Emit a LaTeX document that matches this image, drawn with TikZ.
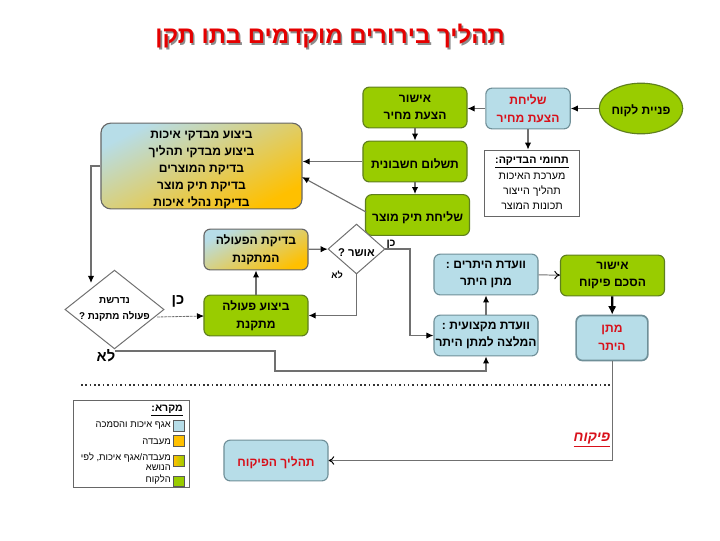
\documentclass[tikz,border=0pt]{standalone}
\usepackage{fontspec}
\setmainfont{Liberation Sans}[Script=Hebrew]
\TeXXeTstate=1
\usetikzlibrary{arrows.meta}
\usetikzlibrary{shapes.geometric}
\newcommand{\heb}[1]{\beginR #1\endR}
\newcommand{\shadowed}[1]{\leavevmode\rlap{\hbox to 0pt{\kern1.2pt\raisebox{-1.2pt}{\color{black!45}\heb{#1}}\hss}}\heb{#1}}
\definecolor{leaf}{HTML}{99CC00}
\definecolor{leafedge}{HTML}{5F7F1E}
\definecolor{sky}{HTML}{B7DDE8}
\definecolor{skyedge}{HTML}{6F8F98}
\definecolor{gold}{HTML}{FFC000}
\definecolor{blend}{HTML}{E3D5A0}
\definecolor{wire}{HTML}{707070}
\definecolor{alert}{HTML}{D8101A}
\tikzset{
  txt/.style={font=\bfseries\fontsize{8.6}{12.6}\selectfont, align=center, text=black, execute at begin node=\rule{0pt}{10.4pt}},
  box/.style={txt, draw, rounded corners=4.5pt, line width=0.8pt, inner sep=0pt},
  greenbox/.style={box, draw=leafedge, fill=leaf, minimum width=74pt, minimum height=29pt},
  bluebox/.style={box, draw=skyedge, fill=sky, minimum width=74pt, minimum height=29pt},
  mixfill/.style={draw=black!60, top color=sky, middle color=blend, bottom color=gold, shading angle=27},
  mixbox/.style={box, mixfill, minimum width=74pt, minimum height=29pt},
  choice/.style={txt, draw=wire, fill=white, diamond, line width=0.7pt, inner sep=-9pt},
  conn/.style={draw=wire, line width=0.8pt, -{Latex[black,length=5pt,width=4.5pt]}},
  openconn/.style={draw=wire, line width=0.7pt, -{To[black,length=4pt,width=6pt]}},
  swatch/.style={draw=black!65, line width=0.7pt, minimum width=7.5pt, minimum height=7.5pt, inner sep=0pt},
  keytxt/.style={font=\fontsize{6.7}{7.5}\selectfont, align=right, anchor=east, inner sep=0pt}
}
\begin{document}
\begin{tikzpicture}[x=0.025cm,y=-0.025cm]
\useasboundingbox (0,0) rectangle (720,540);
\node[font=\bfseries\fontsize{17}{20}\selectfont, text=red!90!black] (title) at (330,37) {\shadowed{תהליך בירורים מוקדמים בתו תקן}};

\node[greenbox, draw=leafedge, ellipse, minimum width=52pt, minimum height=36pt] (pniya) at (641,108.5) {\heb{פניית לקוח}};
\node[bluebox, text=alert, minimum width=60pt] (shlicha) at (528,108.5) {\heb{שליחת}\\\heb{הצעת מחיר}};
\node[greenbox] (ishur) at (415,107.5) {\heb{אישור}\\\heb{הצעת מחיר}};
\node[draw=black!60, line width=0.7pt, minimum width=68pt, minimum height=47.5pt, inner sep=0pt, align=center, font=\fontsize{7.6}{10.9}\selectfont] (tchumim) at (532,183.5) {\underline{\bfseries\heb{תחומי הבדיקה:}}\\\heb{מערכת האיכות}\\\heb{תהליך הייצור}\\\heb{תכונות המוצר}};
\node[greenbox] (tashlum) at (415,161.5) {\heb{תשלום חשבונית}};
\node[greenbox] (tik) at (417.5,215) {\heb{שליחת תיק מוצר}};
\node[box, mixfill, font=\bfseries\fontsize{8.6}{12}\selectfont, execute at begin node={}, rounded corners=7pt, minimum width=143pt, minimum height=61pt] (mivdak) at (201.5,166) {\rule{0pt}{10.5pt}\heb{ביצוע מבדקי איכות}\\\heb{ביצוע מבדקי תהליך}\\\heb{בדיקת המוצרים}\\\heb{בדיקת תיק מוצר}\\\heb{בדיקת נהלי איכות}};
\node[mixbox] (bdika) at (256,249.5) {\heb{בדיקת הפעולה}\\\heb{המתקנת}};
\node[greenbox] (bitzua) at (256,315.5) {\heb{ביצוע פעולה}\\\heb{מתקנת}};
\node[choice, font=\bfseries\fontsize{8}{12}\selectfont, minimum width=40.5pt, minimum height=35.5pt, aspect=1.14] (ushar) at (356.5,249) {\heb{אושר ?}};
\node[choice, font=\bfseries\fontsize{7}{10.8}\selectfont, minimum width=70.5pt, minimum height=56pt, aspect=1.25] (drisha) at (114.5,309.5) {\heb{נדרשת}\\\heb{פעולה מתקנת ?}};
\node[bluebox] (heter) at (486,274.5) {\heb{וועדת היתרים :}\\\heb{מתן היתר}};
\node[bluebox] (miktzoit) at (486,335.5) {\heb{וועדת מקצועית :}\\\heb{המלצה למתן היתר}};
\node[greenbox] (heskem) at (612.5,275.5) {\heb{אישור}\\\heb{הסכם פיקוח}};
\node[bluebox, text=alert, line width=1.2pt, minimum width=51pt, minimum height=32pt] (matan) at (612,338) {\heb{מתן}\\\heb{היתר}};
\node[bluebox, text=alert, minimum height=29pt] (pikuach) at (276,460.5) {\heb{תהליך הפיקוח}};

\node[font=\bfseries\fontsize{10.5}{12}\selectfont, inner sep=0pt] (ken) at (178,301) {\heb{כן}};
\node[font=\bfseries\fontsize{10.5}{12}\selectfont, inner sep=0pt] (lo) at (106,356) {\heb{לא}};
\node[font=\bfseries\fontsize{7.5}{9}\selectfont, inner sep=0pt] (kenushar) at (391,244) {\heb{כן}};
\node[font=\bfseries\fontsize{6.5}{9}\selectfont, inner sep=0pt] (loushar) at (337,275) {\heb{לא}};
\node[font=\bfseries\itshape\fontsize{10}{12}\selectfont, text=alert, inner sep=0pt] (pikuachtxt) at (592,440) {\underline{\heb{פיקוח}}};

\coordinate (tikout) at (366,212);
\coordinate (mivdakin) at (302,177);
\coordinate (drishain) at (91,283);
\coordinate (drishaout) at (157,317);
\coordinate (bitzuain) at (204,316);
\coordinate (lostart) at (115,351);
\coordinate (lomid) at (275,371);

\draw[conn] (pniya) -- (shlicha);
\draw[conn] (shlicha.west) -- (ishur.east |- shlicha.west);
\draw[conn] (shlicha.south) -- (shlicha.south |- tchumim.north);
\draw[conn] (ishur) -- (tashlum);
\draw[conn] (tashlum.south) -- (tashlum.south |- tik.north);
\draw[conn] (tashlum.west) -- (mivdak.east |- tashlum.west);
\draw[conn] (tikout) -- (mivdakin);
\draw[conn] (mivdak.west) -- (91,166) -- (drishain);
\draw[conn, line width=0.6pt, dash pattern=on 2pt off 0.6pt] (drishaout) -- (bitzuain);
\draw[conn] (bitzua) -- (bdika);
\draw[conn] (bdika) -- (ushar);
\draw[conn] (ushar.south) |- (bitzua.east);
\draw[conn] (ushar.east) -- (410,249) |- (miktzoit.west);
\draw[conn] (miktzoit) -- (heter);
\draw[openconn] (heter) -- (heskem);
\draw[draw=black, line width=1.6pt, -{Latex[black,length=6pt,width=6pt]}] (heskem) -- (matan);
\draw[conn] (lostart) -- (275,351) -- (lomid) -| (miktzoit.south);
\draw[openconn] (matan.south) |- (pikuach.east);
\draw[line width=1.1pt, dotted, black!80] (81,385) -- (612,385);

\node[draw=black!60, line width=0.7pt, minimum width=82.5pt, minimum height=62.5pt, inner sep=0pt] (key) at (131,444) {};
\node[font=\bfseries\fontsize{7.5}{9}\selectfont, anchor=east, inner sep=0pt] (keytitle) at (183,411) {\underline{\heb{מקרא:}}};
\node[swatch, fill=sky] (sw1) at (179,426) {};
\node[swatch, fill=gold] (sw2) at (179,441) {};
\node[swatch, left color=gold, right color=leaf] (sw3) at (179,461) {};
\node[swatch, fill=leaf] (sw4) at (179,481.5) {};
\node[keytxt] (key1) at (171,426) {\heb{אגף איכות והסמכה}};
\node[keytxt] (key2) at (171,441.5) {\heb{מעבדה}};
\node[keytxt] (key3) at (171,461.5) {\heb{מעבדה/אגף איכות, לפי}\\\heb{הנושא}};
\node[keytxt] (key4) at (171,480) {\heb{הלקוח}};
\end{tikzpicture}
\end{document}
